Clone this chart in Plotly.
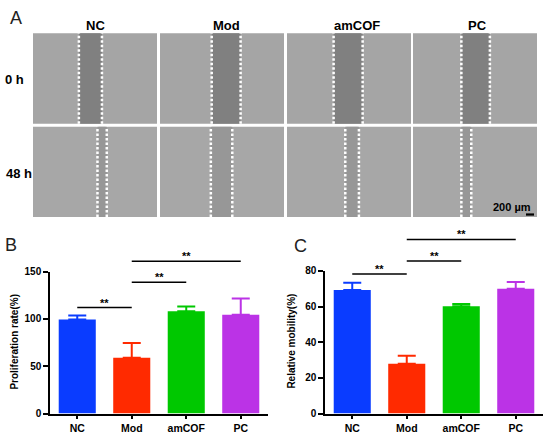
import plotly.graph_objects as go

# Data
groups = ['NC', 'Mod', 'amCOF', 'PC']
colors = ['#0a3cff', '#ff2a00', '#00c800', '#bb33e6']

prolif = [99.5, 59, 108, 104.5]
prolif_err = [4, 15.5, 5, 17]
prolif_sig = [('NC', 'Mod', 112), ('Mod', 'amCOF', 138.7), ('Mod', 'PC', 161)]

mobility = [69.3, 28, 60.2, 70]
mobility_err = [4, 4.4, 1.3, 3.8]
mobility_sig = [('NC', 'Mod', 78.2), ('Mod', 'amCOF', 85.5), ('Mod', 'PC', 97.6)]

# wound edges (fraction of image width)
gap_0h = [(0.37, 0.556), (0.417, 0.65), (0.376, 0.61), (0.39, 0.62)]
gap_48h = [(0.52, 0.595), (0.41, 0.583), (0.47, 0.58), (0.39, 0.47)]

W, H = 550, 441


def px(x):
    return x / W


def py(y):
    return 1 - y / H


fig = go.Figure()

# ---------- panel A: scratch images drawn as shapes ----------
col_left = [33, 160, 287, 413]
img_w = 124
row_top = [28, 124]
img_h = 93
shapes = []
for r, gaps in enumerate([gap_0h, gap_48h]):
    cell_col = '#a5a5a5' if r == 0 else '#a7a7a7'
    gap_col = '#808080' if r == 0 else '#979797'
    for c, (g0, g1) in enumerate(gaps):
        x0, y0 = col_left[c], row_top[r]
        shapes.append(dict(type='rect', xref='paper', yref='paper',
                           x0=px(x0), x1=px(x0 + img_w), y0=py(y0 + img_h), y1=py(y0),
                           fillcolor=cell_col, line=dict(width=0), layer='above'))
        shapes.append(dict(type='rect', xref='paper', yref='paper',
                           x0=px(x0 + g0 * img_w), x1=px(x0 + g1 * img_w),
                           y0=py(y0 + img_h), y1=py(y0),
                           fillcolor=gap_col, line=dict(width=0), layer='above'))
        for g in (g0, g1):
            shapes.append(dict(type='line', xref='paper', yref='paper',
                               x0=px(x0 + g * img_w), x1=px(x0 + g * img_w),
                               y0=py(y0 + img_h), y1=py(y0),
                               line=dict(color='white', width=2.5, dash='2.5px,2px'),
                               layer='above'))
# scale bar
shapes.append(dict(type='rect', xref='paper', yref='paper',
                   x0=px(526), x1=px(534), y0=py(215.5), y1=py(213.2),
                   fillcolor='black', line=dict(width=0), layer='above'))

bold = 'Liberation Sans, Arial, sans-serif'
annotations = []


def label(text, xc, yc, size, weight='bold', angle=0, color='black'):
    annotations.append(dict(text=text, x=px(xc), y=py(yc), xref='paper', yref='paper',
                            xanchor='center', yanchor='middle', showarrow=False,
                            textangle=angle,
                            font=dict(size=size, family=bold, weight=weight, color=color)))


for name, xc in zip(groups, [95, 226, 357, 477]):
    label(name, xc, 20, 13)
label('0 h', 14, 76, 13)
label('48 h', 19, 172, 13)
label('200 µm', 512, 207, 11)
label('A', 16, 12, 18, weight='normal', color='#222')
label('B', 11, 246, 18, weight='normal', color='#222')
label('C', 300, 247, 18, weight='normal', color='#222')
label('Proliferation rate(%)', 15, 345, 10, angle=-90)
label('Relative mobility(%)', 292, 345, 10, angle=-90)

# ---------- panels B and C ----------
panels = [
    dict(vals=prolif, err=prolif_err, sig=prolif_sig, xa='x', ya='y', ys='y3',
         ymax=150, dtick=50, left=50, right=268, top=273),
    dict(vals=mobility, err=mobility_err, sig=mobility_sig, xa='x2', ya='y2', ys='y4',
         ymax=80, dtick=20, left=325, right=543, top=272.3),
]
bottom = 419
sig_top = 228

for p in panels:
    for g, v, e, col in zip(groups, p['vals'], p['err'], colors):
        fig.add_trace(go.Bar(
            x=[g], y=[v], xaxis=p['xa'], yaxis=p['ya'], width=0.68,
            marker=dict(color=col, line=dict(width=0)),
            error_y=dict(type='data', array=[e], arrayminus=[0], symmetric=False,
                         color=col, thickness=2, width=9),
            showlegend=False))
    for a, b, h in p['sig']:
        fig.add_trace(go.Scatter(
            x=[a, b], y=[h, h], xaxis=p['xa'], yaxis=p['ys'], mode='lines',
            line=dict(color='black', width=1.5), showlegend=False, hoverinfo='skip'))
        i, j = groups.index(a), groups.index(b)
        annotations.append(dict(text='**', x=(i + j) / 2, y=h, xref=p['xa'], yref=p['ys'],
                                xanchor='center', yanchor='bottom', yshift=-3, showarrow=False,
                                font=dict(size=11, family=bold, weight='bold')))

axis_common = dict(showline=True, linecolor='black', linewidth=1.5, ticks='outside',
                   tickcolor='black', tickwidth=1.5, showgrid=False, zeroline=False,
                   tickfont=dict(size=10.5, family=bold, weight='bold', color='black'))

layout_axes = {}
for k, p in enumerate(panels):
    xa_name = 'xaxis' if k == 0 else 'xaxis2'
    ya_name = 'yaxis' if k == 0 else 'yaxis2'
    ys_name = 'yaxis3' if k == 0 else 'yaxis4'
    main_dom = [py(bottom), py(p['top'])]
    sig_dom = [py(bottom), py(sig_top)]
    scale = (sig_dom[1] - sig_dom[0]) / (main_dom[1] - main_dom[0])
    layout_axes[xa_name] = dict(axis_common, domain=[px(p['left']), px(p['right'])],
                                anchor=p['ya'], type='category', range=[-0.5, 3.5],
                                categoryorder='array', categoryarray=groups, ticklen=4)
    layout_axes[ya_name] = dict(axis_common, domain=main_dom, anchor=p['xa'],
                                range=[0, p['ymax']], dtick=p['dtick'], ticklen=5,
                                tickfont=dict(size=10, family=bold, weight='bold', color='black'))
    layout_axes[ys_name] = dict(domain=sig_dom, anchor=p['xa'], visible=False,
                                range=[0, p['ymax'] * scale])

fig.update_layout(
    width=W, height=H, margin=dict(l=0, r=0, t=0, b=0),
    paper_bgcolor='white', plot_bgcolor='rgba(0,0,0,0)',
    barmode='overlay', shapes=shapes, annotations=annotations,
    font=dict(family=bold, color='black'),
    **layout_axes,
)

# drop the default body margin so the 550x441 figure fills the window
fig.write_html("out.html", config={'displayModeBar': False},
               post_script="document.body.style.margin='0';")
